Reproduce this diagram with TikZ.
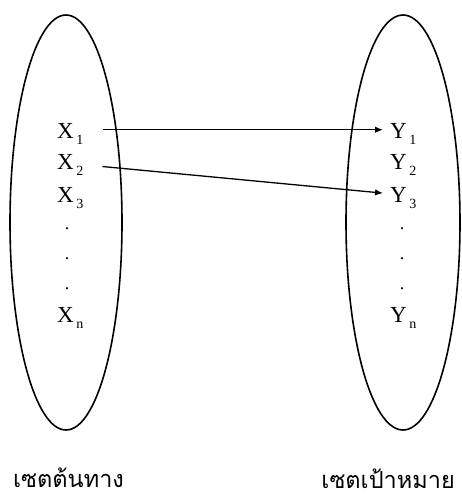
\documentclass[tikz,border=0pt]{standalone}
\usepackage{fontspec}
\setmainfont{Liberation Serif}
\newfontfamily\thaifont[Script=Thai]{Loma}
\usetikzlibrary{arrows.meta,positioning}

\newcommand{\elem}[2]{#1\hspace{2.5pt}\raisebox{-6.5pt}{\fontsize{14}{14}\selectfont #2}}

\begin{document}
\begin{tikzpicture}[x=1pt,y=-1pt,
    every node/.style={inner sep=0pt,font=\fontsize{23}{23}\selectfont},
    setline/.style={line width=1.6pt},
    maparrow/.style={line width=1.3pt,-{Latex[length=8pt,width=6.5pt]}},
    dotnode/.style={font=\fontsize{18}{18}\selectfont},
    caption/.style={font=\thaifont\fontsize{23.5}{24}\selectfont}]
  \useasboundingbox (0,0) rectangle (462,498);
  % the two sets
  \draw[setline] (66,222.5) ellipse [x radius=56,y radius=207.5];
  \draw[setline] (403,222.5) ellipse [x radius=57,y radius=207.5];
  % elements
  \foreach \nm/\s/\yy in {1/1/138,2/2/169,3/3/202,n/n/322}{
    \node[anchor=base west] (x\nm) at (57,\yy) {\elem{X}{\s}};
    \node[anchor=base west] (y\nm) at (390,\yy) {\elem{Y}{\s}};
  }
  \foreach \k/\yy in {1/229,2/259,3/289}{
    \node[dotnode] (xd\k) at (67,\yy) {.};
    \node[dotnode] (yd\k) at (402,\yy) {.};
  }
  % mapping
  \draw[maparrow,shorten <=19pt,shorten >=7pt] ([yshift=4pt]x1.east) -- ([yshift=4pt]y1.west);
  \draw[maparrow,shorten <=19pt,shorten >=7pt] (x2.east) -- ([yshift=4pt]y3.west);
  % captions
  \node[caption,anchor=base west] (src) at (13,487) {เซตต้นทาง};
  \node[caption,anchor=base east] (dst) at (455,488) {เซตเป้าหมาย};
\end{tikzpicture}
\end{document}
